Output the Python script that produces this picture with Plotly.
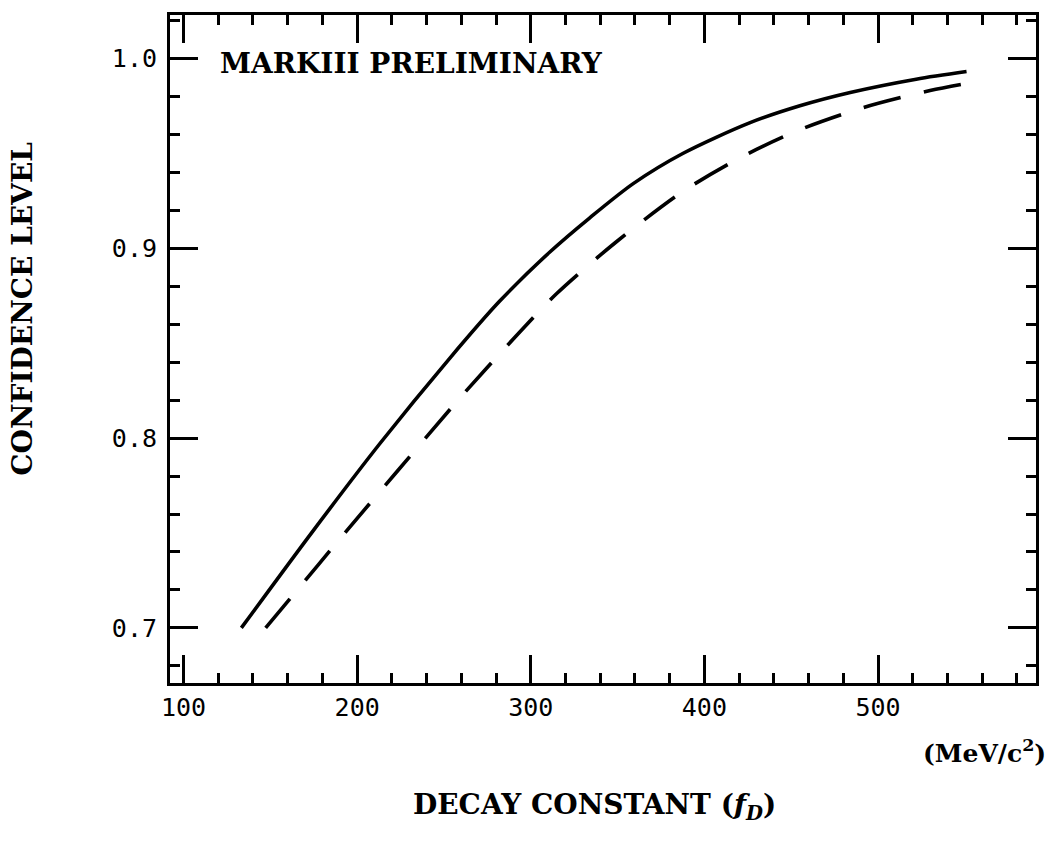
import plotly.graph_objects as go

# Decay constant f_D (MeV/c^2) vs. confidence level
solid_fd = [133.3, 174.5, 213, 253.3, 282, 311, 334, 359, 387.8, 426, 455, 484, 522, 551]
solid_cl = [0.700, 0.751, 0.797, 0.842, 0.872, 0.898, 0.916, 0.934, 0.950, 0.966, 0.975, 0.982, 0.989, 0.993]

dashed_fd = [147.3, 161, 193.8, 222.6, 261, 291.8, 314.8, 348.8, 387.8, 421.4, 454, 491.5, 530, 558.8]
dashed_cl = [0.700, 0.715, 0.751, 0.782, 0.823, 0.854, 0.876, 0.903, 0.930, 0.948, 0.962, 0.974, 0.983, 0.988]

x_ticks = [100, 200, 300, 400, 500]
y_ticks = [0.7, 0.8, 0.9, 1.0]

SERIF = "DejaVu Serif"
MONO = "DejaVu Sans Mono"

fig = go.Figure()
fig.add_trace(go.Scatter(x=solid_fd, y=solid_cl, mode="lines",
                         line=dict(color="black", width=3.6, shape="spline", smoothing=0.8),
                         showlegend=False))
fig.add_trace(go.Scatter(x=dashed_fd, y=dashed_cl, mode="lines",
                         line=dict(color="black", width=3.6, dash="38px,24px",
                                   shape="spline", smoothing=0.8),
                         showlegend=False))

axis_common = dict(
    ticks="inside", tickwidth=3, tickcolor="black",
    showline=True, linewidth=3, linecolor="black", mirror="allticks",
    showgrid=False, zeroline=False,
    tickfont=dict(family=MONO, size=25, color="black"),
)

fig.update_xaxes(range=[92.2, 591], tickvals=x_ticks, ticklen=28,
                 minor=dict(dtick=20, tick0=100, ticks="inside", ticklen=10,
                            tickwidth=3, tickcolor="black", showgrid=False),
                 **axis_common)
fig.update_yaxes(range=[0.671, 1.0228], tickvals=y_ticks, tickformat=".1f", ticklen=28,
                 ticklabelstandoff=5,
                 minor=dict(dtick=0.02, tick0=0.7, ticks="inside", ticklen=10,
                            tickwidth=3, tickcolor="black", showgrid=False),
                 **axis_common)

fig.add_annotation(text="MARKIII PRELIMINARY", xref="paper", yref="paper",
                   x=0.0552, y=0.928, xanchor="left", yanchor="middle", showarrow=False,
                   font=dict(family=SERIF, size=28, color="black", weight="bold"))
fig.add_annotation(text="CONFIDENCE LEVEL", xref="paper", yref="paper",
                   x=-0.17, y=0.56, textangle=-90, xanchor="center", yanchor="middle",
                   showarrow=False,
                   font=dict(family=SERIF, size=28, color="black", weight="bold"))
fig.add_annotation(text="DECAY CONSTANT (<i>f</i><sub><i>D</i></sub>)", xref="paper", yref="paper",
                   x=0.4905, y=-0.185, xanchor="center", yanchor="middle", showarrow=False,
                   font=dict(family=SERIF, size=28, color="black", weight="bold"))
fig.add_annotation(text="(MeV/c<sup>2</sup>)", xref="paper", yref="paper",
                   x=1.014, y=-0.103, xanchor="right", yanchor="middle", showarrow=False,
                   font=dict(family=SERIF, size=25, color="black", weight="bold"))

fig.update_layout(width=1055, height=854,
                  margin=dict(l=170, r=19, t=13, b=171),
                  paper_bgcolor="white", plot_bgcolor="white")

fig.write_html("out.html")
